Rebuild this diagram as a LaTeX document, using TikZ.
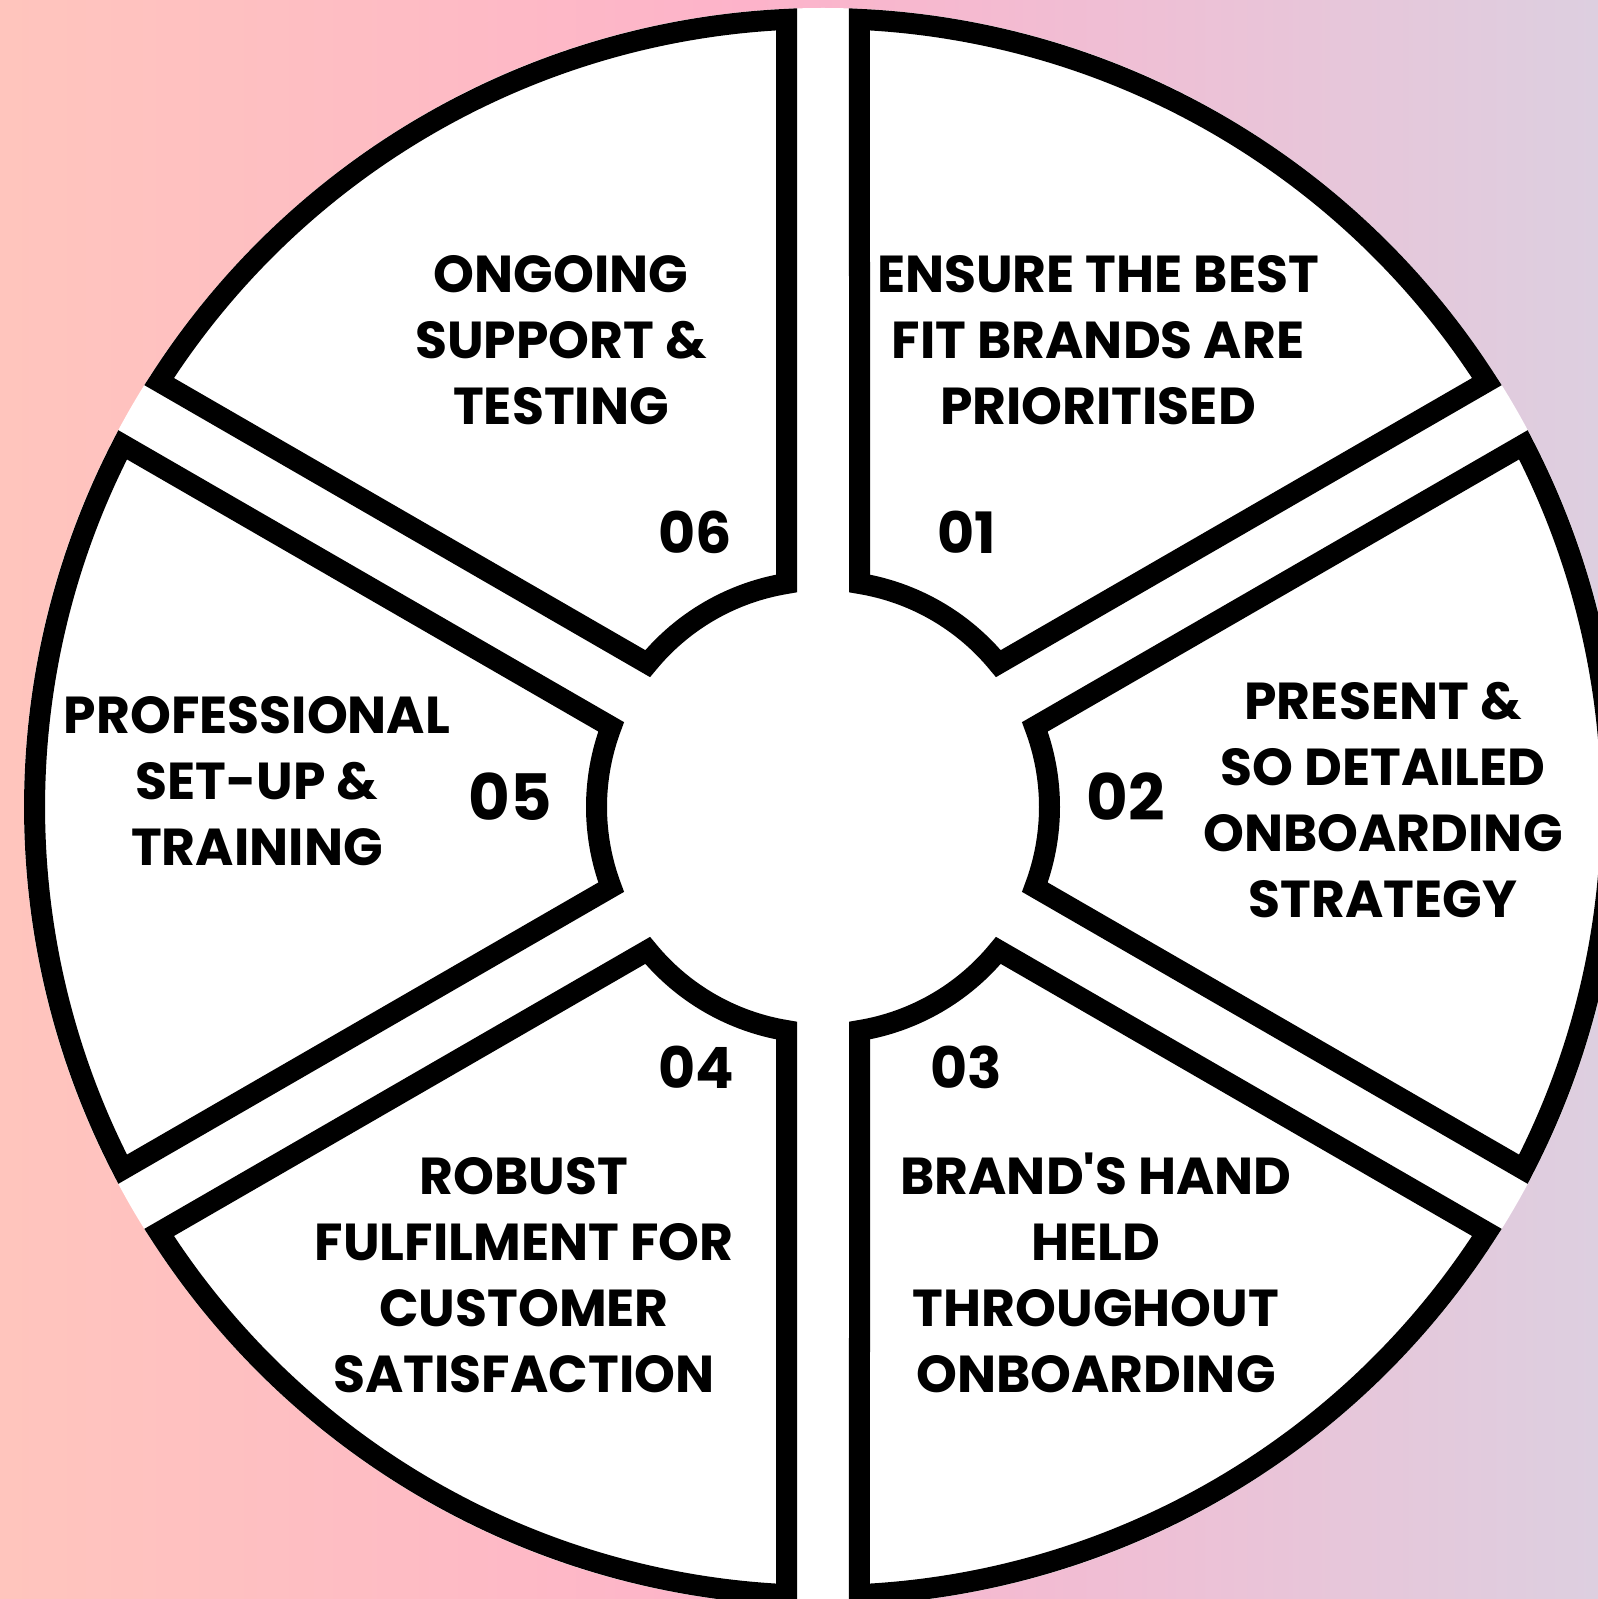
\documentclass[tikz,border=0pt]{standalone}
\usepackage{fontspec}
\newfontfamily\lblfont{Poppins}
\definecolor{bgL}{RGB}{255,197,189}
\definecolor{bgA}{RGB}{254,188,196}
\definecolor{bgM}{RGB}{253,179,202}
\definecolor{bgB}{RGB}{240,190,212}
\definecolor{bgR}{RGB}{221,207,224}
\pgfdeclarehorizontalshading{bgshade}{100bp}{color(0bp)=(bgL); color(25bp)=(bgL); color(37.5bp)=(bgA); color(48.5bp)=(bgM); color(59.5bp)=(bgB); color(75bp)=(bgR); color(100bp)=(bgR)}
\tikzset{
  seg/.style={draw=black, fill=white, line width=10.5pt, line join=miter},
  lbl/.style={font=\lblfont\bfseries\fontsize{26pt}{33pt}\selectfont, align=center, anchor=base, inner sep=0pt},
  num/.style={font=\lblfont\bfseries\fontsize{28.5pt}{30pt}\selectfont, anchor=base, inner sep=0pt},
  bignum/.style={font=\lblfont\bfseries\fontsize{32pt}{34pt}\selectfont, anchor=base, inner sep=0pt}
}
\begin{document}
\begin{tikzpicture}[x=0.5pt,y=0.5pt]
\useasboundingbox (0,0) rectangle (1598,-1599);
\shade[shading=bgshade] (0,0) rectangle (1598,-1599);
\begin{scope}[shift={(823,-807)}]
  \fill[white] (0,0) circle[radius=799];
  \foreach \a/\b in {30/90, -30/30, -90/-30, -150/-90, 150/210, 90/150}{
    \draw[seg] (\a+9.273:226.5) -- (\a+2.653:788.5)
      arc[start angle=\a+2.653, end angle=\b-2.653, radius=788.5]
      -- (\b-9.273:226.5)
      arc[start angle=\b-9.273, end angle=\a+9.273, radius=226.5] -- cycle;
  }
\end{scope}
% texts (anchor = baseline of last line)
\node[lbl] (t6) at (561,-424) {ONGOING\\SUPPORT \&\\TESTING};
\node[lbl] (t1) at (1098,-424) {ENSURE THE BEST\\FIT BRANDS ARE\\PRIORITISED};
\node[lbl] (t2) at (1383,-917) {PRESENT \&\\SO DETAILED\\ONBOARDING\\STRATEGY};
\node[lbl] (t5) at (257,-865) {PROFESSIONAL\\SET-UP \&\\TRAINING};
\node[lbl] (t4) at (524,-1392) {ROBUST\\FULFILMENT FOR\\CUSTOMER\\SATISFACTION};
\node[lbl] (t3) at (1096,-1392) {BRAND'S HAND\\HELD\\THROUGHOUT\\ONBOARDING};
% numbers
\node[num] (n6) at (695,-553) {06};
\node[num] (n1) at (967,-553) {01};
\node[bignum] (n5) at (510,-820) {05};
\node[bignum] (n2) at (1126,-820) {02};
\node[num] (n4) at (696,-1088) {04};
\node[num] (n3) at (966,-1088) {03};
\end{tikzpicture}
\end{document}
